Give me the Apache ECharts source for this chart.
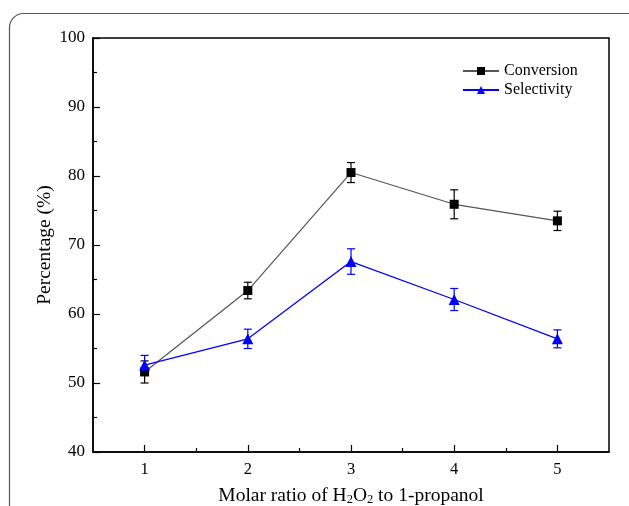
<!DOCTYPE html>
<html>
<head>
<meta charset="utf-8">
<script src="https://cdn.jsdelivr.net/npm/echarts@6/dist/echarts.min.js"></script>
<style>html,body{margin:0;padding:0;background:#fff}#c{width:629px;height:506px}</style>
</head>
<body>
<div id="c"></div>
<script>
var ratios = [1, 2, 3, 4, 5];
var conversion = [51.6, 63.4, 80.5, 75.9, 73.5];
var conversionErr = [1.6, 1.2, 1.45, 2.1, 1.4];
var selectivity = [52.6, 56.4, 67.6, 62.1, 56.4];
var selectivityErr = [1.4, 1.4, 1.85, 1.6, 1.3];
var yTicks = [40, 50, 60, 70, 80, 90, 100];
var xMinorTicks = [1.5, 2.5, 3.5, 4.5];

var FONT = '"Liberation Serif", "DejaVu Serif", serif';

function pairs(xs, ys) { return xs.map(function (x, i) { return [x, ys[i]]; }); }
function errs(xs, ys, es) { return xs.map(function (x, i) { return [x, ys[i] - es[i], ys[i] + es[i]]; }); }

function errRender(color) {
  return function (params, api) {
    var x = api.value(0);
    var lo = api.coord([x, api.value(1)]);
    var hi = api.coord([x, api.value(2)]);
    var w = 4;
    var st = { stroke: color, lineWidth: 1.2 };
    return {
      type: 'group',
      children: [
        { type: 'line', shape: { x1: lo[0], y1: lo[1], x2: hi[0], y2: hi[1] }, style: st },
        { type: 'line', shape: { x1: lo[0] - w, y1: lo[1], x2: lo[0] + w, y2: lo[1] }, style: st },
        { type: 'line', shape: { x1: hi[0] - w, y1: hi[1], x2: hi[0] + w, y2: hi[1] }, style: st }
      ]
    };
  };
}

var chart = echarts.init(document.getElementById('c'));
chart.setOption({
  animation: false,
  backgroundColor: '#fff',
  textStyle: { fontFamily: FONT },
  graphic: [{
    type: 'rect', silent: true, z: -10,
    shape: { x: 9.5, y: 13.5, width: 660, height: 560, r: 14 },
    style: { fill: 'none', stroke: '#555', lineWidth: 1.2 }
  }],
  grid: { left: 93, right: 20, top: 38, bottom: 54, outerBoundsMode: 'none', containLabel: false,
          show: true, borderColor: '#000', borderWidth: 1.5 },
  legend: {
    top: 58, left: 457, orient: 'vertical', itemGap: 3,
    itemWidth: 36, itemHeight: 10,
    textStyle: { fontFamily: FONT, fontSize: 16, color: '#000' },
    data: ['Conversion', 'Selectivity']
  },
  xAxis: [{
    type: 'value', min: 0.5, max: 5.5,
    name: '{n|Molar ratio of H}{s|2}{n|O}{s|2}{n| to 1-propanol}',
    nameLocation: 'middle', nameGap: 33, nameMoveOverlap: false,
    nameTextStyle: {
      fontFamily: FONT, color: '#000',
      rich: {
        n: { fontFamily: FONT, fontSize: 19.5, color: '#000' },
        s: { fontFamily: FONT, fontSize: 12.5, color: '#000', verticalAlign: 'bottom', padding: [8, 0, 0, 0] }
      }
    },
    axisLine: { lineStyle: { color: '#000', width: 1.5 } },
    axisTick: { inside: true, length: 7, customValues: ratios, lineStyle: { color: '#000', width: 1.2 } },
    axisLabel: { customValues: ratios, margin: 9, fontFamily: FONT, fontSize: 16.5, color: '#000' },
    splitLine: { show: false }
  }, {
    type: 'value', min: 0.5, max: 5.5, position: 'bottom',
    axisLine: { show: false },
    axisTick: { inside: true, length: 4, customValues: xMinorTicks, lineStyle: { color: '#000', width: 1.2 } },
    axisLabel: { show: false },
    splitLine: { show: false }
  }],
  yAxis: {
    type: 'value', min: 40, max: 100, interval: 10,
    name: 'Percentage (%)', nameLocation: 'middle', nameGap: 38, nameMoveOverlap: false,
    nameTextStyle: { fontFamily: FONT, fontSize: 19.5, color: '#000' },
    axisLine: { lineStyle: { color: '#000', width: 1.5 } },
    axisTick: { inside: true, length: 7, lineStyle: { color: '#000', width: 1.2 } },
    minorTick: { show: true, splitNumber: 2, length: 4, lineStyle: { color: '#000', width: 1.2 } },
    axisLabel: { margin: 8, fontFamily: FONT, fontSize: 17, color: '#000' },
    splitLine: { show: false }
  },
  series: [
    {
      name: 'Conversion', type: 'line', data: pairs(ratios, conversion),
      symbol: 'rect', symbolSize: 9, z: 5,
      lineStyle: { color: '#555', width: 1.2 },
      itemStyle: { color: '#000' }
    },
    {
      name: 'Selectivity', type: 'line', data: pairs(ratios, selectivity),
      symbol: 'triangle', symbolSize: 11, z: 5,
      lineStyle: { color: '#0000ff', width: 1.3 },
      itemStyle: { color: '#0000ff' }
    },
    {
      name: 'convErr', type: 'custom', data: errs(ratios, conversion, conversionErr),
      renderItem: errRender('#000'), z: 4, encode: { x: 0, y: [1, 2] }
    },
    {
      name: 'selErr', type: 'custom', data: errs(ratios, selectivity, selectivityErr),
      renderItem: errRender('#0000ff'), z: 4, encode: { x: 0, y: [1, 2] }
    }
  ]
});
</script>
</body>
</html>
